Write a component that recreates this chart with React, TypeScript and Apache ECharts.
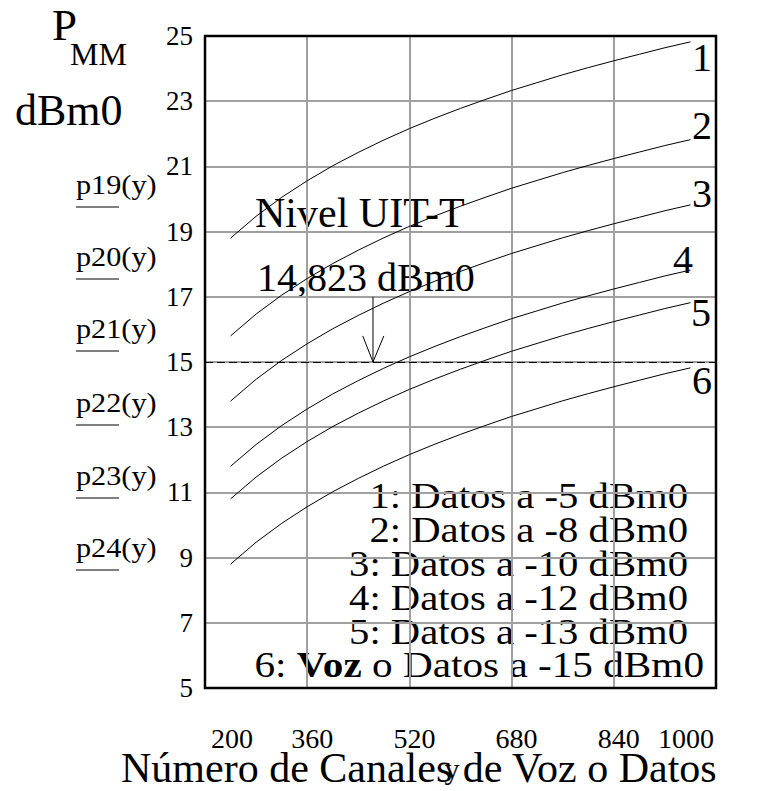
import React, { useEffect, useRef } from 'react';
import * as echarts from 'echarts';

// Number of channels (x)
const channels = [240, 280, 320, 360, 400, 440, 480, 520, 560, 600, 640, 680, 720, 760, 800, 840, 880, 920, 960];

// P_MM (dBm0)
const curve1 = [18.8, 19.47, 20.05, 20.56, 21.02, 21.43, 21.81, 22.16, 22.48, 22.78, 23.06, 23.33, 23.57, 23.81, 24.03, 24.24, 24.44, 24.64, 24.82];
const curve2 = [15.8, 16.47, 17.05, 17.56, 18.02, 18.43, 18.81, 19.16, 19.48, 19.78, 20.06, 20.33, 20.57, 20.81, 21.03, 21.24, 21.44, 21.64, 21.82];
const curve3 = [13.8, 14.47, 15.05, 15.56, 16.02, 16.43, 16.81, 17.16, 17.48, 17.78, 18.06, 18.33, 18.57, 18.81, 19.03, 19.24, 19.44, 19.64, 19.82];
const curve4 = [11.8, 12.47, 13.05, 13.56, 14.02, 14.43, 14.81, 15.16, 15.48, 15.78, 16.06, 16.33, 16.57, 16.81, 17.03, 17.24, 17.44, 17.64, 17.82];
const curve5 = [10.8, 11.47, 12.05, 12.56, 13.02, 13.43, 13.81, 14.16, 14.48, 14.78, 15.06, 15.33, 15.57, 15.81, 16.03, 16.24, 16.44, 16.64, 16.82];
const curve6 = [8.8, 9.47, 10.05, 10.56, 11.02, 11.43, 11.81, 12.16, 12.48, 12.78, 13.06, 13.33, 13.57, 13.81, 14.03, 14.24, 14.44, 14.64, 14.82];

const curveNames = ['1', '2', '3', '4', '5', '6'];
const legendLines = [
  '1: Datos a -5 dBm0',
  '2: Datos a -8 dBm0',
  '3: Datos a -10 dBm0',
  '4: Datos a -12 dBm0',
  '5: Datos a -13 dBm0',
  '6: {b|Voz} o Datos a -15 dBm0',
];
const leftLabels = ['p19(y)', 'p20(y)', 'p21(y)', 'p22(y)', 'p23(y)', 'p24(y)'];

// ITU-T level reference and arrow
const ituLevel = 15;
const arrowX = 463;
const arrowTop = 17.0;
const arrowHeadLeft = [447, 15.8];
const arrowHeadRight = [480, 15.8];

const xMin = 200;
const xMax = 1000;
const xStep = 160;
const yMin = 5;
const yMax = 25;
const yStep = 2;

const SERIF = 'Liberation Serif';

export default function App() {
  const ref = useRef<HTMLDivElement>(null);

  useEffect(() => {
    document.body.style.margin = '0';
    const chart = echarts.init(ref.current!, null, { renderer: 'svg' });
    const curves = [curve1, curve2, curve3, curve4, curve5, curve6];

    const series: any[] = curves.map((c, i) => ({
      type: 'line',
      name: curveNames[i],
      data: channels.map((n, j) => [n, c[j]]),
      symbol: 'none',
      silent: true,
      lineStyle: { color: '#000', width: 1 },
      z: 3,
    }));
    series[0].markLine = {
      symbol: 'none',
      silent: true,
      label: { show: false },
      lineStyle: { color: '#000', width: 1, type: [8, 4] },
      data: [{ yAxis: ituLevel }],
    };
    series.push({
      type: 'line',
      data: [[arrowX, arrowTop], [arrowX, ituLevel]],
      symbol: 'none',
      silent: true,
      lineStyle: { color: '#000', width: 1 },
      z: 4,
    });
    series.push({
      type: 'line',
      data: [arrowHeadLeft, [arrowX, ituLevel], arrowHeadRight],
      symbol: 'none',
      silent: true,
      lineStyle: { color: '#000', width: 1 },
      z: 4,
    });

    const txt = (text: string, x: number, y: number, size: number, align = 'left', extra: any = {}) => ({
      type: 'text',
      x,
      y,
      ...extra,
      style: {
        text,
        fontSize: size,
        fontFamily: SERIF,
        fill: '#000',
        align,
        verticalAlign: 'middle',
      },
    });

    const leftCenters = [185, 257, 329, 403, 476, 548];
    const numPos = [[702, 57], [702, 125], [702, 193], [683, 259], [701, 312], [702, 380]];
    const legCenters = [496, 530, 564, 598, 632, 665];
    const legRight = [688, 688, 688, 688, 688, 704];
    const legScale = [1.13, 1.13, 1.13, 1.13, 1.13, 1.145];

    const graphic: any[] = [];
    graphic.push(txt('P', 52, 25, 45));
    graphic.push(txt('MM', 70, 54, 32));
    graphic.push(txt('dBm0', 15, 110, 44));
    leftLabels.forEach((t, i) => {
      graphic.push(txt(t, 76, leftCenters[i], 27, 'left', { scaleX: 1.12 }));
      graphic.push({
        type: 'line',
        shape: { x1: 76, y1: leftCenters[i] + 22, x2: 119, y2: leftCenters[i] + 22 },
        style: { stroke: '#555', lineWidth: 1.5 },
      });
    });
    curveNames.forEach((t, i) => {
      graphic.push(txt(t, numPos[i][0], numPos[i][1], 40, 'center'));
    });
    graphic.push(txt('Nivel UIT-T', 255, 213, 42));
    graphic.push(txt('14,823 dBm0', 257, 277, 40));
    legendLines.forEach((t, i) => {
      graphic.push({
        type: 'text',
        x: legRight[i],
        y: legCenters[i],
        scaleX: legScale[i],
        style: {
          text: t,
          fontSize: 36,
          fontFamily: SERIF,
          fill: '#000',
          align: 'right',
          verticalAlign: 'middle',
          rich: { b: { fontSize: 36, fontFamily: SERIF, fontWeight: 'bold', fill: '#000' } },
        },
      });
    });
    graphic.push(txt('Número de Canales de Voz o Datos', 121, 768, 42));
    graphic.push(txt('y', 452, 768, 30, 'center'));

    chart.setOption({
      animation: false,
      backgroundColor: '#fff',
      grid: {
        left: 205,
        right: 43,
        top: 36,
        bottom: 103,
        show: true,
        borderColor: '#000',
        borderWidth: 2.5,
        backgroundColor: 'transparent',
        z: 5,
      },
      xAxis: {
        type: 'value',
        min: xMin,
        max: xMax,
        interval: xStep,
        axisLine: { show: false },
        axisTick: { show: false },
        splitLine: { show: true, lineStyle: { color: '#a0a0a0', width: 2 } },
        axisLabel: {
          margin: 36,
          color: '#000',
          fontSize: 28,
          fontFamily: SERIF,
          alignMinLabel: 'left',
          alignMaxLabel: 'right',
          formatter: (v: number) => (v === xMin ? `{f|${v}}` : v === xMax ? `{l|${v}}` : `{m|${v}}`),
          rich: {
            f: { fontSize: 28, fontFamily: SERIF, color: '#000', padding: [0, 0, 0, 6] },
            m: { fontSize: 28, fontFamily: SERIF, color: '#000', padding: [0, 0, 0, 10] },
            l: { fontSize: 28, fontFamily: SERIF, color: '#000', padding: [0, 2, 0, 0] },
          },
        },
      },
      yAxis: {
        type: 'value',
        min: yMin,
        max: yMax,
        interval: yStep,
        axisLine: { show: false },
        axisTick: { show: false },
        splitLine: { show: true, lineStyle: { color: '#a0a0a0', width: 2 } },
        axisLabel: {
          margin: 12,
          color: '#000',
          fontSize: 27,
          fontFamily: SERIF,
          padding: [14, 0, 0, 0],
        },
      },
      series,
      graphic,
    });
    return () => chart.dispose();
  }, []);

  return (
    <div
      ref={ref}
      style={{ position: 'absolute', left: 0, top: 0, width: 759, height: 791, background: '#fff' }}
    />
  );
}
